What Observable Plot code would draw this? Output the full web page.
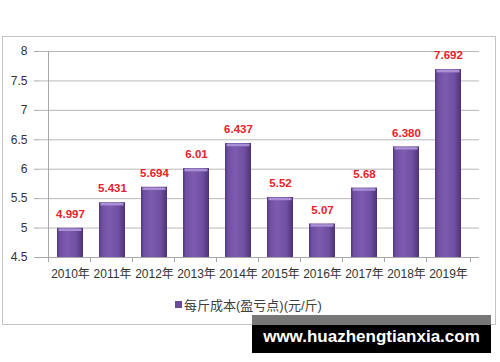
<!DOCTYPE html>
<html>
<head>
<meta charset="utf-8">
<script src="https://cdn.jsdelivr.net/npm/d3@7"></script>
<script src="https://cdn.jsdelivr.net/npm/@observablehq/plot@0.6"></script>
<style>
  body { margin: 0; background: #fff; }
  #wrap { position: relative; width: 500px; height: 362px; overflow: hidden; background: #fff;
          font-family: "Liberation Sans", "Noto Sans CJK SC", sans-serif; }
  #frame { position: absolute; left: 2px; top: 36px; width: 492px; height: 287px; border: 1px solid #c4c4c4; }
  #chart { position: absolute; left: 0; top: 0; }
  #legend { position: absolute; left: 175px; top: 295px; font-size: 13px; color: #404040; display: flex; align-items: center; white-space: nowrap; }
  #legend .sw { width: 7px; height: 7px; background: #6a4b99; margin-right: 2px; }
  #wm { position: absolute; left: 252px; top: 315px; width: 239px; height: 38px; background: #000; }
  #wm .band { position: absolute; left: 0; top: 0; width: 100%; height: 10px; background: #777; }
  #wm .txt { position: absolute; left: 0; top: 11px; width: 100%; text-align: center; color: #fff; font-weight: bold; font-size: 17px;
             font-family: "Liberation Sans", sans-serif; white-space: nowrap; line-height: 22px; }
</style>
</head>
<body>
<div id="wrap">
  <div id="frame"></div>
  <div id="chart"></div>
  <div id="legend"><span class="sw"></span><span id="legendText"></span></div>
  <div id="wm"><div class="band"></div><div class="txt" id="wmText"></div></div>
</div>
<script>
const years = ["2010年","2011年","2012年","2013年","2014年","2015年","2016年","2017年","2018年","2019年"];
const values = [4.997, 5.431, 5.694, 6.01, 6.437, 5.52, 5.07, 5.68, 6.380, 7.692];
const valueLabels = ["4.997","5.431","5.694","6.01","6.437","5.52","5.07","5.68","6.380","7.692"];
const yTicks = [4.5, 5, 5.5, 6, 6.5, 7, 7.5, 8];
const yTickLabels = ["4.5","5","5.5","6","6.5","7","7.5","8"];
const yMin = 4.5, yMax = 8;
const seriesName = "每斤成本(盈亏点)(元/斤)";
const watermark = "www.huazhengtianxia.com";

const W = 500, H = 362, mL = 39, mR = 21, mT = 51, mB = 105;
const step = (W - mL - mR) / years.length;

const data = years.map((year, i) => ({year, value: values[i], label: valueLabels[i]}));

const plot = Plot.plot({
  width: W, height: H,
  marginLeft: mL, marginRight: mR, marginTop: mT, marginBottom: mB,
  style: {fontFamily: "'Liberation Sans', 'Noto Sans CJK SC', sans-serif", fontSize: "12px", background: "transparent", color: "#333"},
  x: {domain: years, padding: 0.38, label: null},
  y: {domain: [yMin, yMax], label: null},
  marks: [
    Plot.gridY(yTicks, {stroke: "#b8b8b8", strokeOpacity: 1}),
    Plot.axisY(yTicks, {tickSize: 5, tickPadding: 7, stroke: "#a8a8a8", strokeOpacity: 1, fill: "#333", fontSize: 12, label: null,
      tickFormat: d => yTickLabels[yTicks.indexOf(d)]}),
    Plot.axisX({tickSize: 0, tickPadding: 12, fill: "#333", fontSize: 12, label: null}),
    Plot.barY(data, {x: "year", y1: () => yMin, y2: "value", fill: "url(#barGrad)"}),
    Plot.tickY(data, {x: "year", y: "value", stroke: "#a98fd4", strokeWidth: 2.5, dy: 1.5, insetLeft: 1.5, insetRight: 1.5}),
    Plot.ruleY([yMin], {stroke: "#a8a8a8"}),
    Plot.ruleX([years[0]], {y1: yMin, y2: yMax, dx: -step / 2, stroke: "#a8a8a8"}),
    Plot.ruleX(years, {y1: yMin, y2: yMin, dx: -step / 2, insetBottom: -5, stroke: "#a8a8a8"}),
    Plot.ruleX([years[years.length - 1]], {y1: yMin, y2: yMin, dx: step / 2, insetBottom: -5, stroke: "#a8a8a8"}),
    Plot.text(data, {x: "year", y: "value", text: "label", dy: -14, fill: "#e8212b", fontWeight: "bold", fontSize: 11.5})
  ]
});

const svg = d3.select(plot);
const grad = svg.insert("defs", ":first-child").append("linearGradient")
  .attr("id", "barGrad").attr("x1", "0%").attr("x2", "100%").attr("y1", "0%").attr("y2", "0%");
[["0%", "#53397f"], ["12%", "#7050a3"], ["40%", "#7d5cb0"], ["75%", "#6f4fa2"], ["100%", "#4c3277"]]
  .forEach(([o, c]) => grad.append("stop").attr("offset", o).attr("stop-color", c));

document.getElementById("chart").appendChild(plot);
document.getElementById("legendText").textContent = seriesName;
document.getElementById("wmText").textContent = watermark;
</script>
</body>
</html>
